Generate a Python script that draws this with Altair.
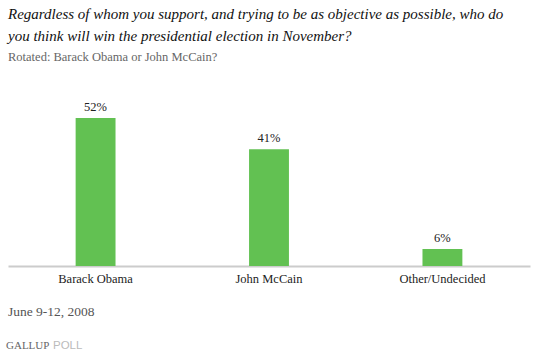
import altair as alt
import pandas as pd

categories = ["Barack Obama", "John McCain", "Other/Undecided"]
values = [52, 41, 6]
labels = ["52%", "41%", "6%"]

title_lines = [
    "Regardless of whom you support, and trying to be as objective as possible, who do",
    "you think will win the presidential election in November?",
]
subtitle = "Rotated: Barack Obama or John McCain?"
date_text = "June 9-12, 2008"
brand_1 = "GALLUP"
brand_2 = "POLL"

SERIF = "Liberation Serif, serif"
df = pd.DataFrame({"cat": categories, "val": values, "lab": labels})

base = alt.Chart(df)
x = alt.X("cat:N", sort=categories, title=None,
          scale=alt.Scale(paddingInner=0.77, paddingOuter=0.39),
          axis=alt.Axis(labelAngle=0, ticks=False, domainColor="#cccccc", domainWidth=2,
                        labelFont=SERIF, labelFontSize=12.5, labelColor="#222222",
                        labelPadding=6, grid=False))
y = alt.Y("val:Q", title=None, scale=alt.Scale(domain=[0, 58.3], nice=False), axis=None)

bars = base.mark_bar(color="#62c152").encode(x=x, y=y)
texts = base.mark_text(dy=-4, baseline="bottom", font=SERIF, fontSize=12.5, color="#222222").encode(
    x=alt.X("cat:N", sort=categories), y=y, text="lab:N")

def note(txt, xv, yv, size, color, font=SERIF, style="normal"):
    return alt.Chart(pd.DataFrame({"t": [txt]})).mark_text(
        align="left", baseline="alphabetic", font=font, fontSize=size, color=color, fontStyle=style
    ).encode(x=alt.value(xv), y=alt.value(yv), text="t:N")

t1 = note(title_lines[0], 0, -81, 15, "#111111", style="italic")
t2 = note(title_lines[1], 0, -59, 15, "#111111", style="italic")
st = note(subtitle, 0, -39, 12.5, "#666666")
dt = note(date_text, 0, 216, 13.5, "#555555")
b1 = note(brand_1, -2, 249, 11, "#666666")
b2 = note(brand_2, 45, 249, 11.5, "#bbbbbb", font="Liberation Sans")

chart = alt.layer(bars, texts, t1, t2, st, dt, b1, b2).properties(
    width=522, height=166,
    autosize=alt.AutoSizeParams(type="none"),
    padding={"left": 8, "top": 100, "right": 7, "bottom": 91},
).configure(background="white").configure_view(stroke=None)

chart.save("out.html", embed_options={"renderer": "svg", "actions": False})
